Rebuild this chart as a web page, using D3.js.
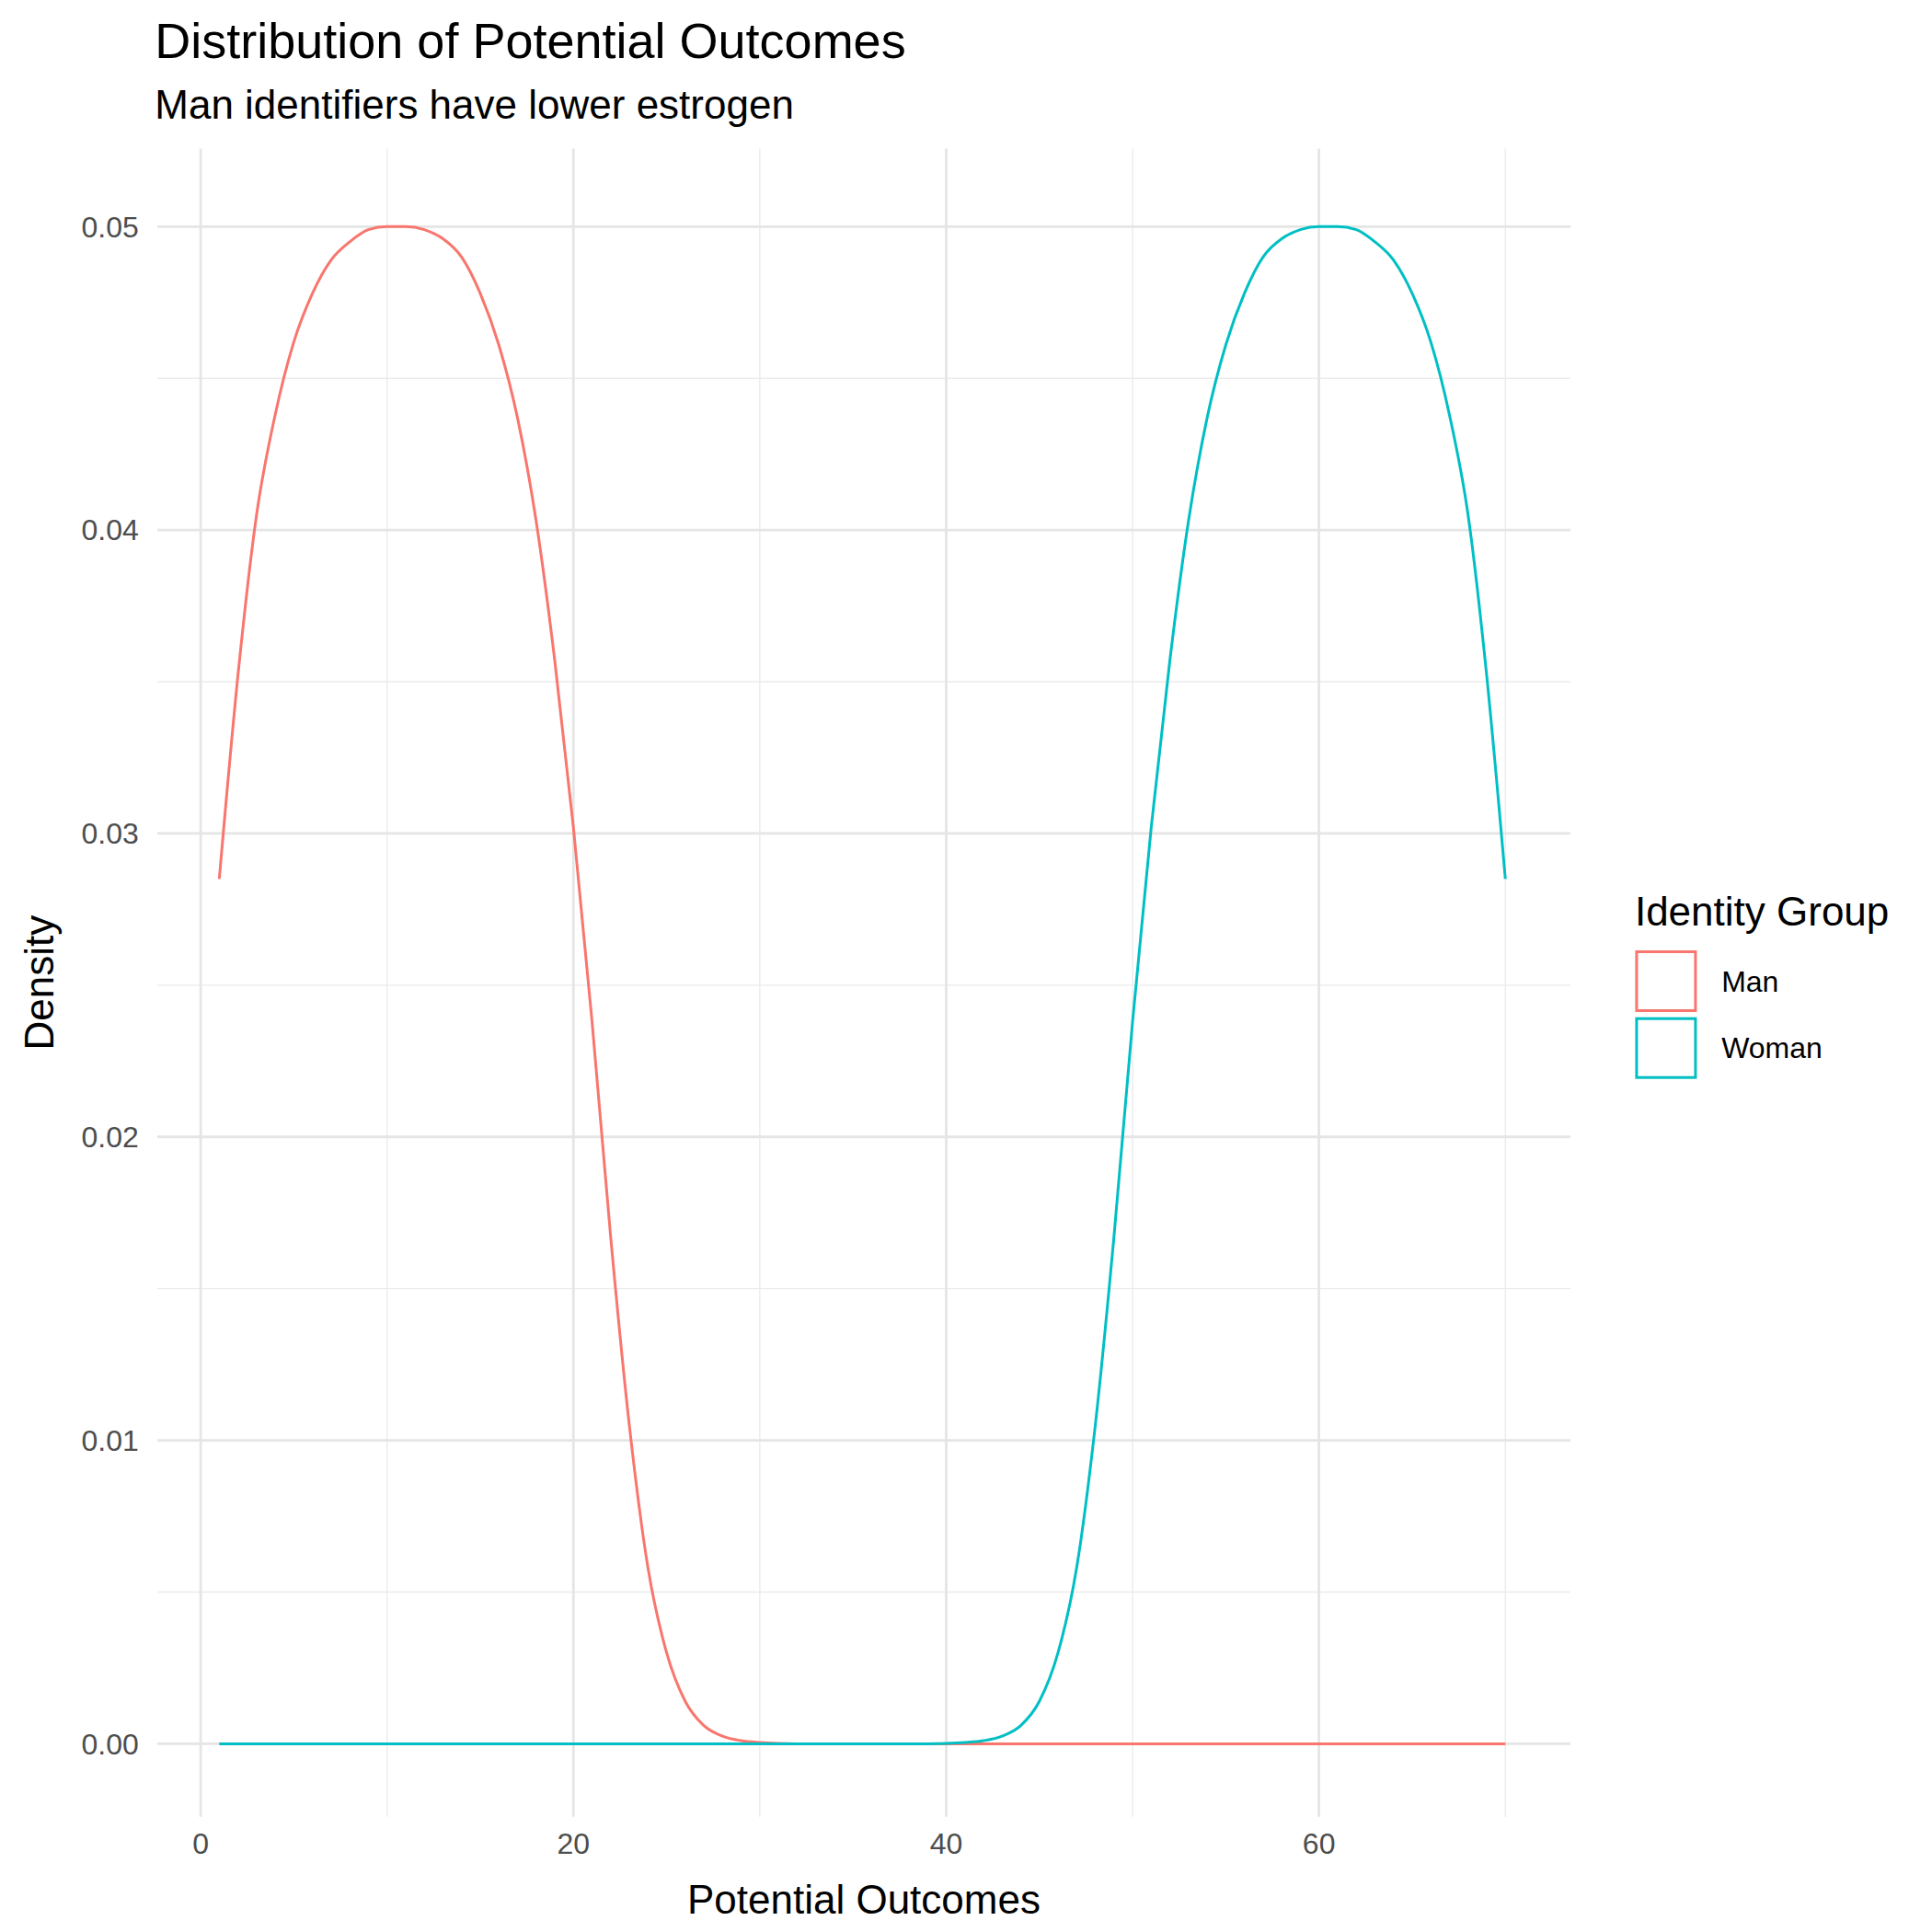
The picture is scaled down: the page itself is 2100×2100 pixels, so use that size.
<!DOCTYPE html>
<html><head><meta charset="utf-8">
<script src="https://cdn.jsdelivr.net/npm/d3@7"></script>
<style>body{margin:0;background:#fff}text{font-family:"Liberation Sans",Arial,sans-serif}</style>
</head><body><svg id="c" width="2100" height="2100"></svg>
<script>
var manX = [1,2,3,4,5,6,7,8,9,10,11,12,13,14,15,16,17,18,19,20,21,22,23,24,25,26,27,28,29,30,31,32,40,50,60,70];
var manY = [0.0285,0.0352,0.0405,0.0438,0.0462,0.0478,0.0489,0.0495,0.0499,0.05,0.05,0.0499,0.0496,0.049,0.0478,0.0461,0.0437,0.0403,0.0357,0.0302,0.0238,0.0167,0.0105,0.0058,0.003,0.0014,0.0006,0.00025,0.0001,0.00004,0.00001,0,0,0,0,0];
var womanX = [1,11,21,31,39,40,41,42,43,44,45,46,47,48,49,50,51,52,53,54,55,56,57,58,59,60,61,62,63,64,65,66,67,68,69,70];
var womanY = [0,0,0,0,0,0.00001,0.00004,0.0001,0.00025,0.0006,0.0014,0.003,0.0058,0.0105,0.0167,0.0238,0.0302,0.0357,0.0403,0.0437,0.0461,0.0478,0.049,0.0496,0.0499,0.05,0.05,0.0499,0.0495,0.0489,0.0478,0.0462,0.0438,0.0405,0.0352,0.0285];
var groups = ["Man","Woman"];
var colors = ["#F8766D","#00BFC4"];
var xTicks = [0,20,40,60];
var yTicks = [0,0.01,0.02,0.03,0.04,0.05];

var svg = d3.select('#c');
var s = 2100/1560;
var L = 127*s, R = 1268*s, T = 120*s, B = 1467*s;
var x = d3.scaleLinear().domain([0,60]).range([162*s,1065*s]);
var y = d3.scaleLinear().domain([0,0.05]).range([1408*s,183*s]);

var g = svg.append('g');
// minor grid
d3.range(10,80,20).forEach(function(v){
  g.append('line').attr('x1',x(v)).attr('x2',x(v)).attr('y1',T).attr('y2',B).attr('stroke','#ebebeb').attr('stroke-width',1.4);
});
d3.range(0.005,0.05,0.01).forEach(function(v){
  g.append('line').attr('x1',L).attr('x2',R).attr('y1',y(v)).attr('y2',y(v)).attr('stroke','#ebebeb').attr('stroke-width',1.4);
});
// major grid
xTicks.forEach(function(v){
  g.append('line').attr('x1',x(v)).attr('x2',x(v)).attr('y1',T).attr('y2',B).attr('stroke','#e5e5e5').attr('stroke-width',2.8);
});
yTicks.forEach(function(v){
  g.append('line').attr('x1',L).attr('x2',R).attr('y1',y(v)).attr('y2',y(v)).attr('stroke','#e5e5e5').attr('stroke-width',2.8);
});

var line = d3.line().x(function(d){return x(d[0]);}).y(function(d){return y(d[1]);}).curve(d3.curveMonotoneX);
var series = [d3.zip(manX,manY), d3.zip(womanX,womanY)];
series.forEach(function(d,i){
  svg.append('path').attr('d',line(d)).attr('fill','none').attr('stroke',colors[i]).attr('stroke-width',3);
});

xTicks.forEach(function(v){
  svg.append('text').attr('x',x(v)).attr('y',1497*s).attr('text-anchor','middle').attr('font-size',32).attr('fill','#4d4d4d').text(v);
});
yTicks.forEach(function(v){
  svg.append('text').attr('x',112*s).attr('y',y(v)).attr('dy','0.35em').attr('text-anchor','end').attr('font-size',32).attr('fill','#4d4d4d').text(v.toFixed(2));
});
svg.append('text').attr('x',(L+R)/2).attr('y',1545*s).attr('text-anchor','middle').attr('font-size',44).text('Potential Outcomes');
svg.append('text').attr('transform','translate('+(43*s)+','+((T+B)/2)+') rotate(-90)').attr('text-anchor','middle').attr('font-size',44).text('Density');
svg.append('text').attr('x',125*s).attr('y',47*s).attr('font-size',54).text('Distribution of Potential Outcomes');
svg.append('text').attr('x',125*s).attr('y',96*s).attr('font-size',44).text('Man identifiers have lower estrogen');

var leg = svg.append('g').attr('transform','translate('+(1320*s)+','+(747*s)+')');
leg.append('text').attr('font-size',44).text('Identity Group');
groups.forEach(function(gname,i){
  var gg = leg.append('g').attr('transform','translate(0,'+((20+i*54)*s)+')');
  gg.append('rect').attr('x',2).attr('y',2).attr('width',64).attr('height',64).attr('fill','none').attr('stroke',colors[i]).attr('stroke-width',3);
  gg.append('text').attr('x',70*s).attr('y',34).attr('dy','0.35em').attr('font-size',32).text(gname);
});
</script></body></html>
